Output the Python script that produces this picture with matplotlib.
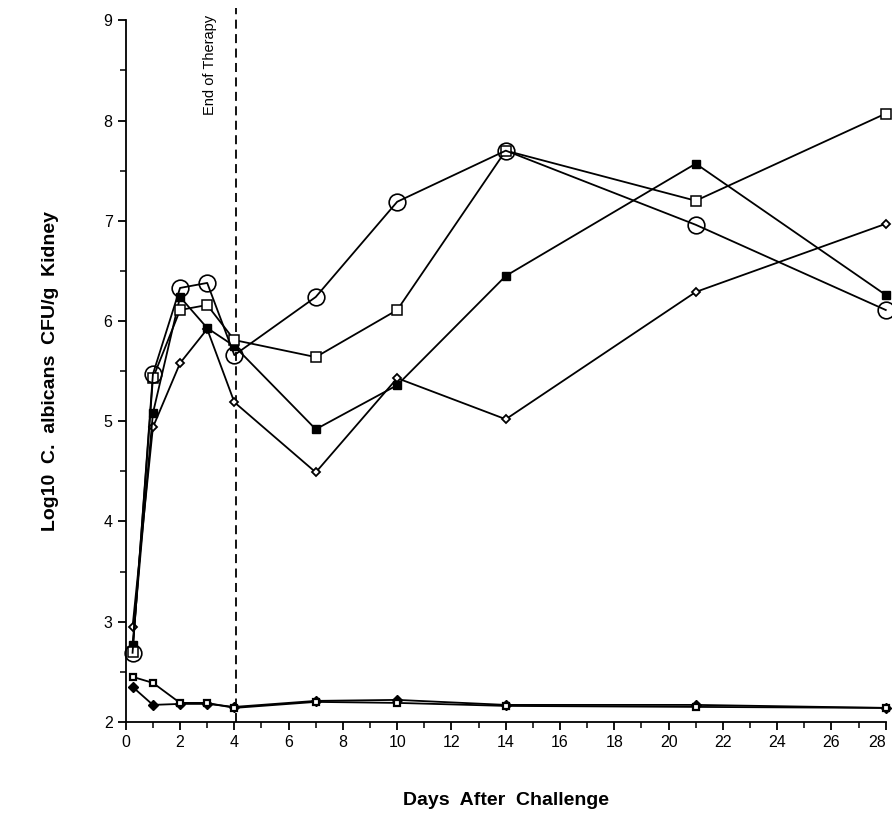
import matplotlib
matplotlib.use("Agg")
import matplotlib.pyplot as plt
from matplotlib.ticker import MultipleLocator

plt.rcParams['font.family'] = ['Liberation Sans', 'DejaVu Sans']

# dias de coleta
dias = [0.25, 1, 2, 3, 4, 7, 10, 14, 21, 28]

# grupos (Log10 UFC/g rim)
circulo_aberto = [2.69, 5.47, 6.33, 6.38, 5.66, 6.24, 7.19, 7.70, 6.96, 6.11]
quadrado_aberto = [2.70, 5.43, 6.11, 6.16, 5.81, 5.64, 6.11, 7.70, 7.20, 8.07]
quadrado_cheio = [2.77, 5.08, 6.24, 5.93, 5.75, 4.92, 5.36, 6.45, 7.57, 6.26]
losango = [2.95, 4.94, 5.58, 5.92, 5.19, 4.49, 5.43, 5.02, 6.29, 6.97]
tratado_quadrado = [2.45, 2.39, 2.19, 2.19, 2.14, 2.20, 2.19, 2.16, 2.15, 2.14]
tratado_ponto = [2.35, 2.17, 2.18, 2.18, 2.15, 2.21, 2.22, 2.17, 2.17, 2.14]

fim_terapia = 4.05

fig = plt.figure(figsize=(8.92, 8.13), dpi=100)
ax = fig.add_axes([0.141, 0.112, 0.852, 0.863])

kw = dict(color='black', lw=1.3, clip_on=False, zorder=3)
ax.plot(dias, losango, marker='D', ms=4.5, mfc='white', mec='black', mew=1.3, **kw)
ax.plot(dias, quadrado_cheio, marker='s', ms=6, mfc='black', mec='black', **kw)
ax.plot(dias, quadrado_aberto, marker='s', ms=6.5, mfc='white', mec='black', mew=1.1, **kw)
ax.plot(dias, circulo_aberto, marker='o', ms=12, mfc='none', mec='black', mew=1.2, **kw)
ax.plot(dias, tratado_ponto, marker='D', ms=5, mfc='black', mec='black', **kw)
ax.plot(dias, tratado_quadrado, marker='s', ms=5, mfc='white', mec='black', mew=1.6, **kw)

ax.plot([fim_terapia, fim_terapia], [2, 9.12], color='black', lw=1.3,
        ls=(0, (5, 3)), clip_on=False)
ax.text(fim_terapia - 0.95, 9.05, 'End of Therapy', rotation=90, ha='center', va='top',
        fontsize=10.5)

ax.set_xlim(0, 28)
ax.set_ylim(2, 9)
ax.set_xticks(range(0, 29, 2), [str(d) for d in range(0, 29, 2)])
ax.xaxis.set_minor_locator(MultipleLocator(1))
ax.yaxis.set_major_locator(MultipleLocator(1))
ax.yaxis.set_minor_locator(MultipleLocator(0.5))
ax.tick_params(which='major', length=6, width=1.3, labelsize=11.5)
ax.tick_params(which='minor', length=4, width=1.1)
ax.spines['top'].set_visible(False)
ax.spines['right'].set_visible(False)
ax.spines['left'].set_linewidth(1.3)
ax.spines['bottom'].set_linewidth(1.3)

# ultimo rotulo encostado na borda direita
for rot in ax.get_xticklabels():
    if rot.get_text() == '28':
        rot.set_horizontalalignment('right')
        rot.set_x(28.25)

ax.set_xlabel('Days  After  Challenge', fontsize=14, fontweight='bold', labelpad=30)
ax.set_ylabel('Log10  C.  albicans  CFU/g  Kidney', fontsize=14, fontweight='bold',
              labelpad=32)

fig.savefig('out.png', dpi=100)
